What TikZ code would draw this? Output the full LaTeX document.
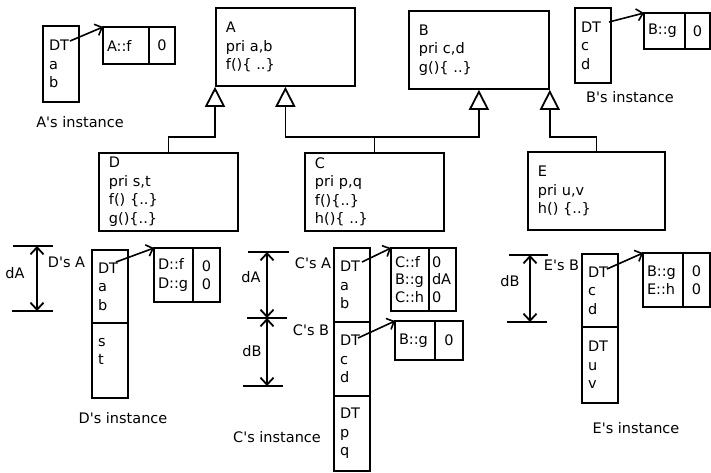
\documentclass[tikz,border=0pt]{standalone}
\usepackage{fontspec}
\setmainfont{DejaVu Sans}[Ligatures=TeXOff]
\usetikzlibrary{arrows.meta}
\newcommand{\dfont}{\fontsize{14.5}{18.5}\selectfont}
\begin{document}
\begin{tikzpicture}[x=1pt,y=-1pt, line width=1.8pt,
  every node/.style={font=\dfont},
  cls/.style={draw, anchor=north west, align=left, text width=119pt, inner xsep=10pt, minimum height=78pt},
  inst/.style={draw, anchor=north west, align=left, text width=24pt, inner xsep=6pt, inner ysep=0pt, outer sep=0pt},
  vleft/.style={draw, anchor=north west, align=left, inner xsep=4pt, inner ysep=0pt, outer sep=0pt},
  vright/.style={draw, anchor=north west, align=center, inner xsep=3pt, inner ysep=0pt, outer sep=0pt},
  lbl/.style={inner sep=0pt},
  inh/.style={-{Triangle[open,length=20pt,width=20pt]}},
  ptr/.style={-{Straight Barb[length=6pt,width=12pt]}, line width=1.6pt},
  dim/.style={{Straight Barb[length=7pt,width=13pt]}-{Straight Barb[length=7pt,width=13pt]}},
]
\useasboundingbox (0,0) rectangle (711,472);

% classes
\node[cls] (A) at (215,7) {A\\pri a,b\\f()\{ ..\}};
\node[cls, text width=120pt] (B) at (408,10) {B\\pri c,d\\g()\{ ..\}};
\node[cls] (D) at (98,152) {D\\pri s,t\\f() \{..\}\\g()\{..\}};
\node[cls] (C) at (304,152) {C\\pri p,q\\f()\{..\}\\h()\{ ..\}};
\node[cls, text width=117pt] (E) at (527,151) {E\\pri u,v\\h() \{..\}};

% inheritance
\draw[inh] (D.north) -- ++(0,-15) -| (A.south west);
\draw[inh] (C.north) -- ++(0,-15) coordinate (cj) -| (A.south);
\draw[inh] (cj) -| (B.south);
\draw[inh] (E.north) -- ++(0,-14) -| (B.south east);

% A's instance
\node[inst, minimum height=76pt] (ai) at (43,26) {DT\\a\\b};
\node[vleft, text width=38pt, minimum height=37pt] (avl) at (103,27) {A::f};
\node[vright, text width=20pt, minimum height=37pt] (avr) at (avl.north east) {0};
\node[lbl] (ail) at (80,122) {A's instance};
\coordinate (adt) at (70,41);
\draw[ptr] (adt) -- (avl.north west);

% B's instance
\node[inst, minimum height=75pt] (bi) at (575,8) {DT\\c\\d};
\node[vleft, text width=33pt, minimum height=36pt] (bvl) at (644,13) {B::g};
\node[vright, text width=19pt, minimum height=36pt] (bvr) at (bvl.north east) {0};
\node[lbl] (bil) at (630,97) {B's instance};
\coordinate (bdt) at (609,22);
\draw[ptr] (bdt) -- (bvl.north west);

% D's instance
\node[inst, minimum height=73pt] (di1) at (92,250) {DT\\a\\b};
\node[inst, minimum height=75pt] (di2) at (di1.south west) {s\\t\\\mbox{}};
\node[vleft, text width=31pt, minimum height=54pt] (dvl) at (154,248) {D::f\\D::g};
\node[vright, text width=21pt, minimum height=54pt] (dvr) at (dvl.north east) {0\\0};
\node[lbl] (dil) at (123,418) {D's instance};
\node[lbl, anchor=west] (dsa) at (47,262) {D's A};
\coordinate (ddt) at (116,262);
\draw[ptr] (ddt) -- (dvl.north west);
\coordinate (dat1) at (13,246); \coordinate (dat2) at (53,246);
\coordinate (dab1) at (12,311); \coordinate (dab2) at (53,311);
\draw (dat1) -- (dat2); \draw (dab1) -- (dab2);
\coordinate (daa) at (37,246); \coordinate (dab) at (37,311);
\draw[dim] (daa) -- (dab);
\node[lbl] (dal) at (15,273) {dA};

% C's instance
\node[inst, minimum height=74pt] (ci1) at (334,248) {DT\\a\\b};
\node[inst, minimum height=74pt] (ci2) at (ci1.south west) {DT\\c\\d};
\node[inst, minimum height=75pt] (ci3) at (ci2.south west) {DT\\p\\q};
\node[vleft, text width=30pt, minimum height=63pt, font=\fontsize{14.5}{17.5}\selectfont] (cvl) at (391,248) {C::f\\B::g\\C::h};
\node[vright, align=left, text width=21pt, minimum height=63pt, font=\fontsize{14.5}{17.5}\selectfont] (cvr) at (cvl.north east) {0\\dA\\0};
\node[vleft, text width=32pt, minimum height=39pt] (cbvl) at (395,321) {B::g};
\node[vright, text width=22pt, minimum height=39pt] (cbvr) at (cbvl.north east) {0};
\node[lbl] (cil) at (277,437) {C's instance};
\node[lbl, anchor=west] (csa) at (294,263) {C's A};
\node[lbl, anchor=west] (csb) at (292,330) {C's B};
\coordinate (cdt1) at (362,262);
\coordinate (cdt2) at (358,338);
\draw[ptr] (cdt1) -- (cvl.north west);
\draw[ptr] (cdt2) -- (cbvl.north west);
\coordinate (ct1) at (248,252); \coordinate (ct2) at (289,252);
\coordinate (cm1) at (247,318); \coordinate (cm2) at (287,318);
\coordinate (cb1) at (243,386); \coordinate (cb2) at (283,386);
\draw (ct1) -- (ct2); \draw (cm1) -- (cm2); \draw (cb1) -- (cb2);
\coordinate (cat) at (267,252); \coordinate (cam) at (267,318); \coordinate (cab) at (267,386);
\draw[dim] (cat) -- (cam);
\draw[dim] (cam) -- (cab);
\node[lbl] (cal) at (251,277) {dA};
\node[lbl] (cbl) at (252,351) {dB};

% E's instance
\node[inst, minimum height=73pt] (ei1) at (582,254) {DT\\c\\d};
\node[inst, minimum height=76pt] (ei2) at (ei1.south west) {DT\\u\\v};
\node[vleft, text width=32pt, minimum height=54pt] (evl) at (643,253) {B::g\\E::h};
\node[vright, text width=21pt, minimum height=54pt] (evr) at (evl.north east) {0\\0};
\node[lbl] (eil) at (636,428) {E's instance};
\node[lbl, anchor=west] (esb) at (543,265) {E's B};
\coordinate (edt) at (607,269);
\draw[ptr] (edt) -- (evl.north west);
\coordinate (et1) at (509,255); \coordinate (et2) at (548,255);
\coordinate (eb1) at (507,322); \coordinate (eb2) at (547,322);
\draw (et1) -- (et2); \draw (eb1) -- (eb2);
\coordinate (eat) at (530,255); \coordinate (eab) at (530,322);
\draw[dim] (eat) -- (eab);
\node[lbl] (ebl) at (510,281) {dB};
\end{tikzpicture}
\end{document}
